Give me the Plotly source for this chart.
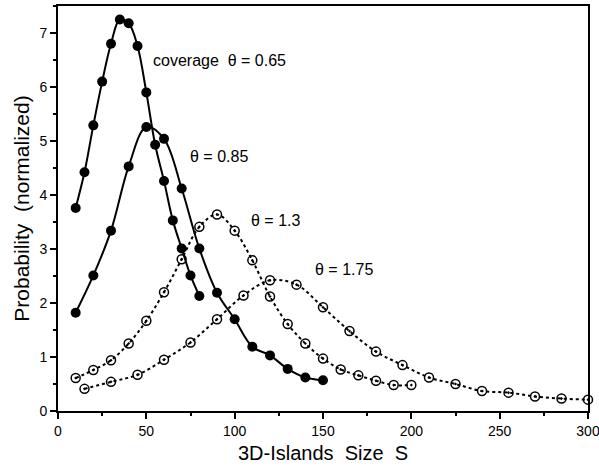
import plotly.graph_objects as go

# Island-size distributions for four coverages
s_065 = [10, 15, 20, 25, 30, 35, 40, 45, 50, 55, 60, 65, 70, 75, 80]
p_065 = [3.76, 4.42, 5.29, 6.10, 6.80, 7.25, 7.18, 6.76, 5.90, 4.93, 4.26, 3.53, 3.01, 2.51, 2.13]

s_085 = [10, 20, 30, 40, 50, 60, 70, 80, 90, 100, 110, 120, 130, 140, 150]
p_085 = [1.82, 2.51, 3.34, 4.53, 5.26, 5.04, 4.12, 3.01, 2.19, 1.70, 1.19, 1.03, 0.78, 0.62, 0.57]

s_130 = [10, 20, 30, 40, 50, 60, 70, 80, 90, 100, 110, 120, 130, 140, 150, 160, 170, 180, 190, 200]
p_130 = [0.61, 0.76, 0.94, 1.25, 1.67, 2.20, 2.81, 3.41, 3.64, 3.34, 2.79, 2.12, 1.61, 1.25, 0.97,
         0.77, 0.66, 0.56, 0.48, 0.48]

s_175 = [15, 30, 45, 60, 75, 90, 105, 120, 135, 150, 165, 180, 195, 210, 225, 240, 255, 270, 285, 300]
p_175 = [0.41, 0.54, 0.67, 0.95, 1.27, 1.70, 2.14, 2.42, 2.34, 1.92, 1.48, 1.10, 0.85, 0.62, 0.50,
         0.37, 0.34, 0.27, 0.23, 0.21]

labels = ["coverage\u00a0\u00a0\u03b8 = 0.65", "\u03b8 = 0.85", "\u03b8 = 1.3", "\u03b8 = 1.75"]
label_pos = [(53.5, 6.5), (74.5, 4.72), (109.5, 3.52), (145.5, 2.62)]

font_family = "Liberation Sans, Arial, sans-serif"

fig = go.Figure()

for s, p in [(s_065, p_065), (s_085, p_085)]:
    fig.add_trace(go.Scatter(
        x=s, y=p, mode="lines+markers",
        line=dict(color="black", width=2, shape="spline", smoothing=1.0),
        marker=dict(symbol="circle", size=10, color="black"),
        showlegend=False, cliponaxis=False,
    ))

for s, p in [(s_130, p_130), (s_175, p_175)]:
    fig.add_trace(go.Scatter(
        x=s, y=p, mode="lines+markers",
        line=dict(color="black", width=2, dash="dot", shape="spline", smoothing=1.0),
        marker=dict(symbol="circle-open-dot", size=9, color="black",
                    line=dict(width=1.5, color="black")),
        showlegend=False, cliponaxis=False,
    ))

for text, (x, y) in zip(labels, label_pos):
    fig.add_annotation(x=x, y=y, text=text, showarrow=False, xanchor="left", yanchor="middle",
                       xshift=-2, font=dict(family=font_family, size=16, color="black"))

fig.update_layout(
    width=599, height=472,
    margin=dict(l=58, r=11, t=6, b=61),
    plot_bgcolor="white", paper_bgcolor="white",
    font=dict(family=font_family, color="black", size=14),
)

fig.update_xaxes(
    range=[0, 300], tickvals=[0, 50, 100, 150, 200, 250, 300],
    automargin=False, ticklabeloverflow="allow",
    showgrid=False, zeroline=False,
    showline=True, linecolor="black", linewidth=2, mirror=True,
    ticks="outside", ticklen=6, tickwidth=1.5, tickcolor="black",
    minor=dict(dtick=25, tick0=0, ticks="outside", ticklen=3, tickwidth=1.5, tickcolor="black"),
    title=dict(text="3D-Islands\u00a0\u00a0Size\u00a0\u00a0S", font=dict(size=20), standoff=8),
)
fig.update_yaxes(
    range=[0, 7.5], tickvals=[0, 1, 2, 3, 4, 5, 6, 7],
    automargin=False,
    showgrid=False, zeroline=False,
    showline=True, linecolor="black", linewidth=2, mirror=True,
    ticks="outside", ticklen=6, tickwidth=1.5, tickcolor="black",
    minor=dict(dtick=0.5, tick0=0, ticks="outside", ticklen=3, tickwidth=1.5, tickcolor="black"),
    title=dict(text="Probability\u00a0\u00a0(normalized)", font=dict(size=21), standoff=4),
)

fig.write_html("out.html")
